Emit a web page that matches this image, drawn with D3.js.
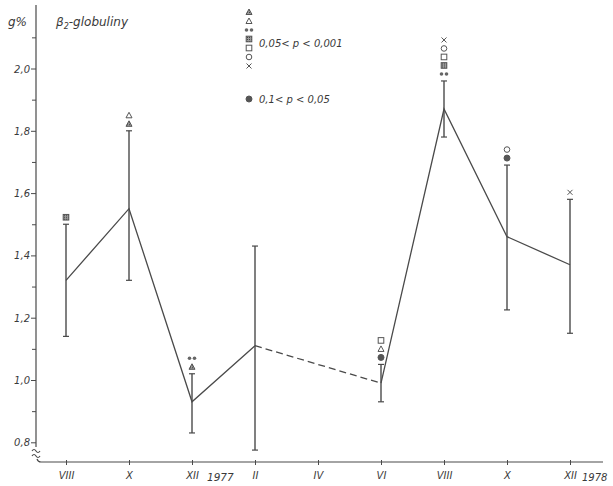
<!DOCTYPE html>
<html>
<head>
<meta charset="utf-8">
<script src="https://cdn.jsdelivr.net/npm/d3@7"></script>
<style>
  body { margin: 0; background: #fff; }
  svg { display: block; }
  text { font-family: "DejaVu Sans", sans-serif; font-style: italic; fill: #3a3a3a; }
</style>
</head>
<body>
<svg id="chart" width="613" height="486"></svg>
<script>
// Month index: 0 = VIII 1977 ... 16 = XII 1978
const tickMonths = [0, 2, 4, 6, 8, 10, 12, 14, 16];
const tickLabels = ["VIII", "X", "XII", "II", "IV", "VI", "VIII", "X", "XII"];
const yTickValues = [0.8, 1.0, 1.2, 1.4, 1.6, 1.8, 2.0];
const yTickLabels = ["0,8", "1,0", "1,2", "1,4", "1,6", "1,8", "2,0"];
const yMinorValues = [0.9, 1.1, 1.3, 1.5, 1.7, 1.9, 2.1];

const sampleMonths = [0, 2, 4, 6, 10, 12, 14, 16];
const meanValues  = [1.32, 1.55, 0.93, 1.11, 0.99, 1.87, 1.46, 1.37];
const upperValues = [1.50, 1.80, 1.02, 1.43, 1.05, 1.96, 1.69, 1.58];
const lowerValues = [1.14, 1.32, 0.83, 0.775, 0.93, 1.78, 1.225, 1.15];
// significance markers stacked above each bar, listed top to bottom
const markerSets = [
  ["hsquare"],
  ["tri", "htri"],
  ["dots", "htri"],
  [],
  ["square", "tri", "hdot"],
  ["x", "circle", "square", "hsquare", "dots"],
  ["circle", "hdot"],
  ["x"]
];
const legendSymbols = ["htri", "tri", "dots", "hsquare", "square", "circle", "x"];

const ink = "#4a4a4a";
const svg = d3.select("#chart");

const x = d3.scaleLinear().domain([0, 16]).range([66, 570]);
const y = d3.scaleLinear().domain([1.0, 2.0]).range([380, 68.5]);

// hatch pattern for shaded symbols
const defs = svg.append("defs");
const pat = defs.append("pattern").attr("id", "hatch")
  .attr("patternUnits", "userSpaceOnUse").attr("width", 2).attr("height", 2);
pat.append("rect").attr("width", 2).attr("height", 2).attr("fill", "#9a9a9a");
pat.append("rect").attr("width", 1).attr("height", 1).attr("fill", "#444");

// y axis
const yAxis = d3.axisLeft(y).tickValues(yTickValues).tickSize(5)
  .tickFormat((d, i) => yTickLabels[i]);
const gy = svg.append("g").attr("transform", "translate(36,0)").call(yAxis);
gy.select(".domain").remove();
gy.selectAll("line").attr("stroke", ink);
gy.selectAll("text").attr("font-size", 10).attr("x", -6).attr("dy", "0.35em");
const gyMinor = svg.append("g").attr("transform", "translate(36,0)")
  .call(d3.axisLeft(y).tickValues(yMinorValues).tickSize(4).tickFormat(""));
gyMinor.select(".domain").remove();
gyMinor.selectAll("line").attr("stroke", ink);

// y axis line with break near the bottom
svg.append("path")
  .attr("d", "M36,5 V447 M32,451 q2,-3 4,0 t4,0 M32,456 q2,-3 4,0 t4,0")
  .attr("fill", "none").attr("stroke", ink).attr("stroke-width", 1.2);

// x axis
const xAxis = d3.axisBottom(x).tickValues(tickMonths).tickSize(4)
  .tickFormat((d, i) => tickLabels[i]);
const gx = svg.append("g").attr("transform", "translate(0,462)").call(xAxis);
gx.select(".domain").remove();
gx.selectAll("line").attr("stroke", ink).attr("y1", -2).attr("y2", 3);
gx.selectAll("text").attr("font-size", 10).attr("y", 10).attr("dy", "0.71em");
svg.append("path").attr("d", "M37,459 q1,3 4,3 H603")
  .attr("fill", "none").attr("stroke", ink).attr("stroke-width", 1.2);

svg.append("text").attr("x", 207).attr("y", 481).attr("font-size", 10.5).text("1977");
svg.append("text").attr("x", 582).attr("y", 481).attr("font-size", 10).text("1978");

// titles
svg.append("text").attr("x", 8).attr("y", 26).attr("font-size", 12).text("g%");
const title = svg.append("text").attr("x", 56).attr("y", 26).attr("font-size", 12);
title.append("tspan").text("β");
title.append("tspan").attr("font-size", 8).attr("dy", 3).text("2");
title.append("tspan").attr("dy", -3).text("-globuliny");

// mean line: solid parts and dashed gap
const pts = sampleMonths.map((m, i) => [x(m), y(meanValues[i])]);
const line = d3.line();
svg.append("path").attr("d", line(pts.slice(0, 4)))
  .attr("fill", "none").attr("stroke", ink).attr("stroke-width", 1.3);
svg.append("path").attr("d", line(pts.slice(3, 5)))
  .attr("fill", "none").attr("stroke", ink).attr("stroke-width", 1.3)
  .attr("stroke-dasharray", "7,4");
svg.append("path").attr("d", line(pts.slice(4)))
  .attr("fill", "none").attr("stroke", ink).attr("stroke-width", 1.3);

// error bars
const bars = svg.append("g");
sampleMonths.forEach((m, i) => {
  const cx = x(m);
  bars.append("line").attr("x1", cx).attr("x2", cx)
    .attr("y1", y(upperValues[i])).attr("y2", y(lowerValues[i]))
    .attr("stroke", ink).attr("stroke-width", 1.4);
  [upperValues[i], lowerValues[i]].forEach(v => {
    bars.append("line").attr("x1", cx - 3).attr("x2", cx + 3)
      .attr("y1", y(v)).attr("y2", y(v))
      .attr("stroke", ink).attr("stroke-width", 1.2);
  });
});

// symbol drawing
function drawSymbol(g, kind, cx, cy) {
  const s = g.append("g").attr("transform", `translate(${cx},${cy})`);
  const st = { stroke: "#555", "stroke-width": 1, fill: "none" };
  const apply = (el, extra) => { Object.entries(Object.assign({}, st, extra || {})).forEach(([k, v]) => el.attr(k, v)); return el; };
  if (kind === "tri" || kind === "htri") {
    apply(s.append("path").attr("d", "M0,-3 L3,2.5 L-3,2.5 Z"), kind === "htri" ? { fill: "url(#hatch)" } : {});
  } else if (kind === "square" || kind === "hsquare") {
    apply(s.append("rect").attr("x", -2.8).attr("y", -2.8).attr("width", 5.6).attr("height", 5.6), kind === "hsquare" ? { fill: "url(#hatch)" } : {});
  } else if (kind === "circle") {
    apply(s.append("circle").attr("r", 2.8));
  } else if (kind === "hdot") {
    apply(s.append("circle").attr("r", 3), { fill: "#555" });
  } else if (kind === "x") {
    apply(s.append("path").attr("d", "M-2.5,-2.5 L2.5,2.5 M2.5,-2.5 L-2.5,2.5"));
  } else if (kind === "dots") {
    apply(s.append("circle").attr("cx", -2.5).attr("r", 1.8), { fill: "#666", stroke: "none" });
    apply(s.append("circle").attr("cx", 2.5).attr("r", 1.8), { fill: "#666", stroke: "none" });
  }
}

const marks = svg.append("g");
sampleMonths.forEach((m, i) => {
  const set = markerSets[i];
  const top = y(upperValues[i]) - 7;
  set.slice().reverse().forEach((k, j) => drawSymbol(marks, k, x(m), top - j * 8.5));
});

// legend
const leg = svg.append("g");
legendSymbols.forEach((k, j) => drawSymbol(leg, k, 249, 12 + j * 9));
svg.append("text").attr("x", 259).attr("y", 47).attr("font-size", 10).text("0,05< p < 0,001");
drawSymbol(leg, "hdot", 249, 99);
svg.append("text").attr("x", 259).attr("y", 103).attr("font-size", 10).text("0,1< p < 0,05");
</script>
</body>
</html>
